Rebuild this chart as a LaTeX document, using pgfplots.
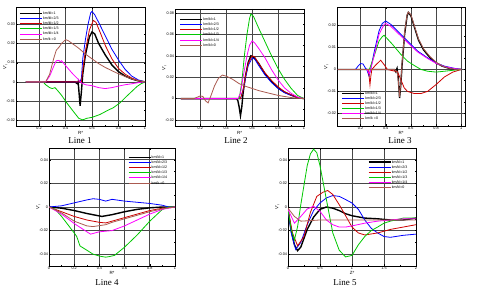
\documentclass[border=0pt]{standalone}
\usepackage{pgfplots}
\pgfplotsset{compat=1.18}
\usepackage{fontspec}
\newfontfamily\lab{Liberation Sans}
\newfontfamily\ser{Liberation Serif}
\definecolor{cblue}{RGB}{0,0,255}
\definecolor{cred}{RGB}{205,0,0}
\definecolor{cgreen}{RGB}{0,200,0}
\definecolor{cmag}{RGB}{255,0,255}
\definecolor{cbrown}{RGB}{170,90,80}
\pgfplotsset{
  sub/.style={
    scale only axis,
    axis line style={line width=0.5pt},
    grid=major,
    major grid style={draw=black!72, line width=0.65pt},
    minor tick num=1,
    tick align=inside,
    major tick length=1.5pt, minor tick length=0.9pt,
    tick style={black, line width=0.3pt},
    /pgf/number format/assume math mode=true,
    ticklabel style={font=\lab\fontsize{3.8}{4}\selectfont, inner sep=0.8pt},
    yticklabel style={/pgf/number format/fixed, /pgf/number format/precision=2},
    xticklabel style={/pgf/number format/fixed},
    scaled y ticks=false, scaled x ticks=false,
    xlabel style={font=\lab\fontsize{4.5}{5}\selectfont, inner sep=0pt, yshift=-0.5pt},
    ylabel style={font=\lab\fontsize{4.5}{5}\selectfont, inner sep=0pt, yshift=-2pt},
    every axis plot/.append style={line width=0.8pt},
    legend style={draw=none, fill=none, font=\lab\fontsize{3.6}{4}\selectfont,
      nodes={inner sep=0.5pt, text height=3.1pt, text depth=1pt},
      /tikz/every even column/.append style={column sep=1pt}},
    legend image code/.code={\draw[##1] (0pt,0pt) -- (22pt,0pt);},
    legend cell align=left,
  },
  kblack/.style={black, line width=1.4pt},
  kblue/.style={cblue},
  kred/.style={cred},
  kgreen/.style={cgreen},
  kmag/.style={cmag},
  kbrown/.style={cbrown},
}
\begin{document}
\begin{tikzpicture}[x=1pt,y=1pt]
\useasboundingbox (0pt,0pt) rectangle (480pt,295pt);
% ---------------- Line 1
\begin{axis}[sub, at={(16pt,169pt)}, anchor=south west, width=129pt, height=119pt,
  xmin=0.026, xmax=1, ymin=-0.023, ymax=0.039,
  xtick={0.2,0.4,0.6,0.8,1}, ytick={-0.02,-0.01,0,0.01,0.02,0.03},
  xlabel={R*}, ylabel={V'\textsubscript{r}},
  legend style={at={(rel axis cs:0,0.985)}, anchor=north west}]
\addplot[kblack] coordinates {(0.1,0)(0.47,0)(0.49,-0.001)(0.495,0)(0.50,-0.004)(0.51,-0.0125)(0.52,-0.005)(0.53,0.004)(0.55,0.014)(0.58,0.0234)(0.6,0.026)(0.62,0.025)(0.65,0.02)(0.7,0.014)(0.75,0.0088)(0.8,0.0053)(0.85,0.003)(0.9,0.0015)(0.95,0.0005)(1,0)};
\addplot[kblue] coordinates {(0.1,0)(0.51,0)(0.52,0.002)(0.53,0.012)(0.55,0.022)(0.57,0.03)(0.59,0.036)(0.6,0.0367)(0.62,0.035)(0.65,0.031)(0.7,0.024)(0.75,0.017)(0.8,0.0114)(0.85,0.0065)(0.9,0.003)(0.95,0.001)(1,0)};
\addplot[kred] coordinates {(0.1,0)(0.52,0)(0.53,0.006)(0.55,0.016)(0.58,0.027)(0.61,0.032)(0.63,0.031)(0.66,0.026)(0.7,0.019)(0.75,0.012)(0.8,0.007)(0.85,0.004)(0.9,0.002)(0.95,0.0006)(1,0)};
\addplot[kgreen] coordinates {(0.1,0)(0.23,0)(0.25,-0.0015)(0.28,-0.003)(0.3,-0.0035)(0.32,-0.003)(0.34,-0.0045)(0.37,-0.007)(0.41,-0.011)(0.46,-0.0155)(0.5,-0.019)(0.53,-0.0198)(0.56,-0.019)(0.6,-0.0185)(0.66,-0.017)(0.72,-0.0148)(0.76,-0.0135)(0.81,-0.011)(0.86,-0.0076)(0.9,-0.005)(0.94,-0.0024)(0.97,-0.001)(1,0)};
\addplot[kmag] coordinates {(0.1,0)(0.25,0)(0.28,0.003)(0.31,0.008)(0.33,0.011)(0.35,0.0112)(0.36,0.0105)(0.37,0.011)(0.4,0.0085)(0.45,0.0045)(0.5,0.001)(0.52,-0.0005)(0.55,-0.0015)(0.6,-0.002)(0.65,-0.003)(0.7,-0.0035)(0.75,-0.003)(0.8,-0.0022)(0.85,-0.0015)(0.9,-0.001)(0.95,-0.0004)(1,0)};
\addplot[kbrown] coordinates {(0.1,0)(0.25,0)(0.28,0.004)(0.31,0.012)(0.33,0.0165)(0.35,0.018)(0.37,0.02)(0.4,0.022)(0.42,0.0215)(0.45,0.02)(0.5,0.0175)(0.55,0.0145)(0.6,0.012)(0.65,0.0095)(0.7,0.0075)(0.75,0.0058)(0.8,0.0042)(0.85,0.0028)(0.9,0.0015)(0.95,0.0006)(1,0)};
\legend{km/kl=1,km/kl=2/3,km/kl=1/2,km/kl=1/3,km/kl=1/4,km/k =0}
\end{axis}
% ---------------- Line 2
\begin{axis}[sub, at={(175pt,169pt)}, anchor=south west, width=129pt, height=117pt,
  xmin=0.005, xmax=1, ymin=-0.0256, ymax=0.0838,
  xtick={0.2,0.4,0.6,0.8,1}, ytick={-0.02,0,0.02,0.04,0.06,0.08},
  xlabel={R*}, ylabel={V'\textsubscript{r}},
  legend style={at={(rel axis cs:0.01,0.95)}, anchor=north west}]
\addplot[kblack] coordinates {(0.05,0)(0.48,0)(0.49,-0.002)(0.5,-0.008)(0.51,-0.016)(0.52,-0.008)(0.53,0.005)(0.55,0.022)(0.57,0.034)(0.59,0.04)(0.61,0.039)(0.65,0.033)(0.7,0.023)(0.75,0.016)(0.8,0.010)(0.85,0.006)(0.9,0.0034)(0.95,0.001)(1,0)};
\addplot[kblue] coordinates {(0.05,0)(0.51,0)(0.53,0.008)(0.55,0.02)(0.57,0.031)(0.6,0.038)(0.62,0.037)(0.65,0.031)(0.7,0.022)(0.75,0.015)(0.8,0.0095)(0.85,0.0055)(0.9,0.003)(0.95,0.001)(1,0)};
\addplot[kred] coordinates {(0.05,0)(0.51,0)(0.53,0.008)(0.55,0.022)(0.57,0.033)(0.6,0.04)(0.62,0.039)(0.65,0.033)(0.7,0.024)(0.75,0.017)(0.8,0.011)(0.85,0.0065)(0.9,0.0035)(0.95,0.001)(1,0)};
\addplot[kgreen] coordinates {(0.05,0)(0.5,0)(0.52,0.015)(0.54,0.04)(0.56,0.06)(0.58,0.075)(0.59,0.079)(0.61,0.077)(0.65,0.066)(0.7,0.053)(0.75,0.04)(0.8,0.028)(0.85,0.018)(0.9,0.0097)(0.95,0.003)(1,0)};
\addplot[kmag] coordinates {(0.05,0)(0.49,0)(0.51,0.005)(0.53,0.02)(0.56,0.04)(0.58,0.05)(0.6,0.054)(0.62,0.052)(0.65,0.047)(0.7,0.038)(0.75,0.027)(0.8,0.0175)(0.85,0.01)(0.9,0.005)(0.95,0.0015)(1,0)};
\addplot[kbrown] coordinates {(0.05,0)(0.15,0)(0.18,0.0015)(0.2,0.0025)(0.22,0.002)(0.24,-0.002)(0.26,-0.004)(0.28,0.002)(0.31,0.012)(0.34,0.019)(0.37,0.022)(0.4,0.021)(0.45,0.018)(0.5,0.014)(0.55,0.0115)(0.6,0.0095)(0.65,0.0075)(0.7,0.006)(0.75,0.0045)(0.8,0.003)(0.85,0.002)(0.9,0.001)(0.95,0.0004)(1,0)};
\legend{km/kl=1,km/kl=2/3,km/kl=1/2,km/kl=1/3,km/kl=1/4,km/kl=0}
\end{axis}
% ---------------- Line 3
\begin{axis}[sub, at={(337pt,169pt)}, anchor=south west, width=128pt, height=119pt,
  xmin=0.013, xmax=1.03, ymin=-0.0258, ymax=0.0285,
  xtick={0.2,0.4,0.6,0.8,1}, ytick={-0.02,-0.01,0,0.01,0.02},
  xlabel={R*}, ylabel={V'\textsubscript{r}},
  legend style={at={(rel axis cs:0.01,0.02)}, anchor=south west}]
\addplot[kblack] coordinates {(0.02,0)(0.47,0)(0.48,-0.001)(0.49,0.0005)(0.5,-0.004)(0.51,-0.013)(0.52,-0.007)(0.53,0.002)(0.55,0.016)(0.57,0.0245)(0.58,0.026)(0.6,0.0245)(0.63,0.019)(0.66,0.0135)(0.7,0.009)(0.75,0.0055)(0.8,0.003)(0.85,0.0015)(0.9,0.0006)(0.95,0.0001)(1,0)};
\addplot[kblue] coordinates {(0.02,0)(0.16,0)(0.18,0.0015)(0.2,0.0027)(0.22,0.0025)(0.24,0.0005)(0.25,0)(0.267,-0.003)(0.28,0)(0.307,0.0076)(0.347,0.0176)(0.373,0.021)(0.4,0.0221)(0.44,0.0206)(0.493,0.0176)(0.573,0.013)(0.653,0.0084)(0.733,0.0053)(0.8,0.003)(0.867,0.0015)(0.947,0.0005)(1,0)};
\addplot[kred] coordinates {(0.02,0)(0.26,0)(0.268,-0.003)(0.275,-0.007)(0.282,-0.003)(0.29,0)(0.32,0.002)(0.36,0.0042)(0.39,0.002)(0.413,0)(0.45,-0.0005)(0.493,-0.001)(0.52,-0.0046)(0.547,-0.0084)(0.573,-0.01)(0.627,-0.011)(0.68,-0.011)(0.733,-0.01)(0.8,-0.0069)(0.867,-0.0034)(0.933,-0.0012)(1,0)};
\addplot[kgreen] coordinates {(0.02,0)(0.27,0)(0.307,0.006)(0.347,0.013)(0.373,0.015)(0.387,0.0156)(0.413,0.014)(0.453,0.0115)(0.52,0.0069)(0.573,0.0038)(0.627,0.0018)(0.68,0)(0.733,-0.0008)(0.8,-0.0012)(0.867,-0.0008)(0.947,-0.0003)(1,0)};
\addplot[kmag] coordinates {(0.02,0)(0.25,0)(0.27,-0.002)(0.28,0)(0.307,0.006)(0.347,0.016)(0.387,0.0205)(0.4,0.021)(0.44,0.0197)(0.493,0.0168)(0.573,0.0123)(0.653,0.008)(0.733,0.005)(0.8,0.0028)(0.867,0.0013)(0.947,0.0004)(1,0)};
\addplot[kbrown] coordinates {(0.02,0)(0.47,0)(0.49,-0.001)(0.5,-0.005)(0.51,-0.0125)(0.52,-0.006)(0.53,0.003)(0.55,0.017)(0.57,0.025)(0.58,0.0262)(0.6,0.025)(0.63,0.0195)(0.66,0.014)(0.7,0.0095)(0.75,0.006)(0.8,0.0033)(0.85,0.0016)(0.9,0.0006)(0.95,0.0001)(1,0)};
\legend{km/kl=1,km/kl=2/3,km/kl=1/2,km/kl=1/3,km/kl=1/4,km/k =0}
\end{axis}
% ---------------- Line 4
\begin{axis}[sub, at={(49pt,29pt)}, anchor=south west, width=126pt, height=118pt,
  xmin=0, xmax=1, ymin=-0.05, ymax=0.05,
  xtick={0,0.2,0.4,0.6,0.8,1}, ytick={-0.04,-0.02,0,0.02,0.04},
  xlabel={R*}, ylabel={V'\textsubscript{r}},
  legend style={at={(rel axis cs:0.6,0.96)}, anchor=north west}]
\addplot[kblack] coordinates {(0,0)(0.1,-0.001)(0.2,-0.003)(0.3,-0.0055)(0.42,-0.008)(0.5,-0.0065)(0.6,-0.004)(0.7,-0.002)(0.8,-0.0007)(0.9,0)(1,0)};
\addplot[kblue] coordinates {(0,0)(0.1,0.001)(0.2,0.0035)(0.3,0.006)(0.35,0.007)(0.4,0.0065)(0.45,0.005)(0.5,0.0065)(0.6,0.005)(0.7,0.004)(0.8,0.003)(0.9,0.0015)(0.95,0)(1,0)};
\addplot[kred] coordinates {(0,0)(0.1,-0.004)(0.2,-0.008)(0.3,-0.011)(0.4,-0.013)(0.45,-0.0135)(0.5,-0.012)(0.6,-0.009)(0.7,-0.006)(0.8,-0.003)(0.9,-0.001)(1,0)};
\addplot[kgreen] coordinates {(0,0)(0.05,-0.002)(0.1,-0.008)(0.15,-0.015)(0.2,-0.022)(0.22,-0.025)(0.246,-0.033)(0.3,-0.0366)(0.35,-0.04)(0.405,-0.0417)(0.45,-0.0425)(0.48,-0.042)(0.52,-0.041)(0.6,-0.034)(0.7,-0.0237)(0.8,-0.012)(0.9,-0.002)(0.95,0)(1,0)};
\addplot[kmag] coordinates {(0,0)(0.1,-0.006)(0.2,-0.014)(0.3,-0.021)(0.33,-0.023)(0.4,-0.021)(0.5,-0.02)(0.6,-0.016)(0.7,-0.011)(0.8,-0.006)(0.9,-0.002)(1,0)};
\addplot[kbrown] coordinates {(0,0)(0.1,-0.005)(0.2,-0.012)(0.3,-0.016)(0.35,-0.0166)(0.45,-0.015)(0.5,-0.013)(0.6,-0.01)(0.7,-0.007)(0.8,-0.004)(0.9,-0.0015)(1,0)};
\legend{km/kl=1,km/kl=2/3,km/kl=1/2,km/kl=1/3,km/kl=1/4,km/k =0}
\end{axis}
% ---------------- Line 5
\begin{axis}[sub, at={(288pt,29pt)}, anchor=south west, width=128pt, height=118pt,
  xmin=0, xmax=2, ymin=-0.05, ymax=0.05,
  xtick={0,0.5,1,1.5,2}, ytick={-0.04,-0.02,0,0.02,0.04},
  xlabel={Z*}, ylabel={V'\textsubscript{r}},
  legend style={at={(rel axis cs:0.6,0.92)}, anchor=north west}]
\addplot[kblack] coordinates {(0,-0.002)(0.05,-0.02)(0.1,-0.032)(0.15,-0.037)(0.2,-0.034)(0.3,-0.019)(0.4,-0.0086)(0.5,-0.002)(0.6,0)(0.7,-0.001)(0.8,-0.003)(0.9,-0.0057)(1.0,-0.0074)(1.2,-0.0094)(1.4,-0.01)(1.6,-0.011)(1.8,-0.011)(2.0,-0.0094)};
\addplot[kblue] coordinates {(0,-0.002)(0.05,-0.022)(0.12,-0.036)(0.2,-0.03)(0.3,-0.015)(0.4,-0.003)(0.5,0.0034)(0.6,0.0077)(0.7,0.0097)(0.8,0.009)(0.9,0.0063)(1.0,0.0034)(1.1,-0.002)(1.2,-0.011)(1.3,-0.018)(1.4,-0.022)(1.5,-0.025)(1.6,-0.0257)(1.8,-0.024)(2.0,-0.023)};
\addplot[kred] coordinates {(0,-0.002)(0.07,-0.022)(0.15,-0.0329)(0.25,-0.025)(0.35,-0.0046)(0.45,0.009)(0.55,0.0126)(0.62,0.014)(0.7,0.0106)(0.8,0.002)(0.9,-0.0074)(1.0,-0.017)(1.1,-0.022)(1.2,-0.0237)(1.4,-0.022)(1.6,-0.019)(1.8,-0.017)(2.0,-0.015)};
\addplot[kgreen] coordinates {(0,-0.002)(0.05,-0.019)(0.1,-0.028)(0.15,-0.0166)(0.2,0.002)(0.3,0.035)(0.35,0.045)(0.4,0.049)(0.45,0.046)(0.5,0.035)(0.6,0.0063)(0.7,-0.022)(0.8,-0.0366)(0.9,-0.0423)(1.0,-0.041)(1.1,-0.032)(1.2,-0.025)(1.3,-0.02)(1.4,-0.017)(1.5,-0.0137)(1.6,-0.012)(1.8,-0.0094)(2.0,-0.0094)};
\addplot[kmag] coordinates {(0,-0.002)(0.1,-0.0137)(0.2,-0.008)(0.3,-0.0017)(0.4,0.0006)(0.5,-0.0037)(0.6,-0.011)(0.7,-0.015)(0.8,-0.017)(0.9,-0.017)(1.0,-0.016)(1.2,-0.0137)(1.4,-0.012)(1.6,-0.011)(1.8,-0.01)(2.0,-0.01)};
\addplot[kbrown] coordinates {(0,-0.001)(0.1,-0.008)(0.2,-0.012)(0.3,-0.0117)(0.5,-0.011)(0.7,-0.011)(1.0,-0.011)(1.5,-0.011)(2.0,-0.011)};
\legend{km/kl=1,km/kl=2/3,km/kl=1/2,km/kl=1/3,km/kl=1/4,km/kl=0}
\end{axis}
% titles
\node[font=\ser\fontsize{9}{10}\selectfont] at (80pt,154pt) {Line 1};
\node[font=\ser\fontsize{9}{10}\selectfont] at (236pt,154pt) {Line 2};
\node[font=\ser\fontsize{9}{10}\selectfont] at (400pt,154pt) {Line 3};
\node[font=\ser\fontsize{9}{10}\selectfont] at (107pt,12pt) {Line 4};
\node[font=\ser\fontsize{9}{10}\selectfont] at (345pt,12pt) {Line 5};
\end{tikzpicture}
\end{document}
